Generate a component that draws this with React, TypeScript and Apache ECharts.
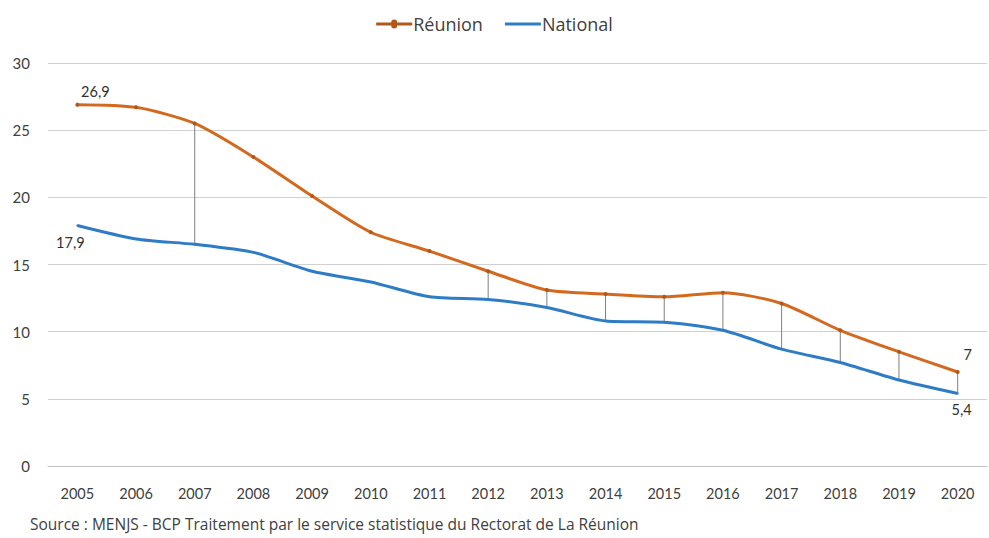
import React, { useEffect, useRef } from "react";
import * as echarts from "echarts";

const years = ["2005","2006","2007","2008","2009","2010","2011","2012","2013","2014","2015","2016","2017","2018","2019","2020"];
const reunion = [26.9, 26.7, 25.5, 23.0, 20.1, 17.4, 16.0, 14.5, 13.1, 12.8, 12.6, 12.9, 12.1, 10.1, 8.5, 7.0];
const national = [17.9, 16.9, 16.5, 15.9, 14.5, 13.7, 12.6, 12.4, 11.8, 10.8, 10.7, 10.1, 8.7, 7.7, 6.4, 5.4];
const dropYears = ["2007","2012","2013","2014","2015","2016","2017","2018","2019","2020"];
const labelsReunion: Record<number, string> = { 0: "26,9", 15: "7" };
const labelsNational: Record<number, string> = { 0: "17,9", 15: "5,4" };
const yTicks = { min: 0, max: 30, interval: 5 };
const sourceText = "Source : MENJS - BCP Traitement par le service statistique du Rectorat de La Réunion";

const ORANGE = "#D2691F";
const BLUE = "#2E7CC6";
const FONT = "Lato, 'Liberation Sans', sans-serif";
const FONT2 = "'Open Sans', 'Noto Sans', sans-serif";

export default function App() {
  const ref = useRef<HTMLDivElement>(null);
  useEffect(() => {
    if (!ref.current) return;
    const chart = echarts.init(ref.current, undefined, { renderer: "svg" });
    const dropData = dropYears.map((y) => {
      const i = years.indexOf(y);
      return [i, reunion[i], national[i]];
    });
    chart.setOption({
      animation: false,
      backgroundColor: "#ffffff",
      textStyle: { fontFamily: FONT },
      legend: {
        top: 10,
        left: "center",
        itemWidth: 36,
        itemHeight: 10,
        itemGap: 22,
        textStyle: { fontSize: 18, color: "#404040", fontFamily: FONT2, padding: [0, 0, 0, -4] },
        data: [
          { name: "Réunion", icon: "path://M0,3.6 L15,3.6 A2.4,2.4 0 1 1 21,3.6 L36,3.6 L36,6.4 L21,6.4 A2.4,2.4 0 1 1 15,6.4 L0,6.4 Z" },
          { name: "National", icon: "path://M0,3.6 L36,3.6 L36,6.4 L0,6.4 Z" },
        ],
      },
      grid: { left: 48, right: 2, top: 63, bottom: 72, containLabel: false },
      xAxis: {
        type: "category",
        data: years,
        boundaryGap: true,
        axisLine: { show: true, lineStyle: { color: "#bfbfbf", width: 1 } },
        axisTick: { show: false },
        axisLabel: { color: "#404040", fontSize: 14.5, margin: 20, fontFamily: FONT },
      },
      yAxis: {
        type: "value",
        min: yTicks.min,
        max: yTicks.max,
        interval: yTicks.interval,
        axisLine: { show: false },
        axisTick: { show: false },
        axisLabel: { color: "#404040", fontSize: 15, margin: 18, fontFamily: FONT },
        splitLine: { lineStyle: { color: "#d0d0d0", width: 1 } },
      },
      series: [
        {
          name: "Drop",
          type: "custom",
          silent: true,
          z: 1,
          data: dropData,
          renderItem: (params: any, api: any) => {
            const p1 = api.coord([api.value(0), api.value(1)]);
            const p2 = api.coord([api.value(0), api.value(2)]);
            return {
              type: "line",
              shape: { x1: p1[0], y1: p1[1], x2: p2[0], y2: p2[1] },
              style: { stroke: "#7f7f7f", lineWidth: 1 },
            };
          },
        },
        {
          name: "Réunion",
          type: "line",
          data: reunion,
          smooth: 0.25,
          z: 3,
          color: ORANGE,
          symbol: "circle",
          symbolSize: 4,
          showSymbol: true,
          itemStyle: { color: "#b0581a" },
          lineStyle: { color: ORANGE, width: 3 },
          label: {
            show: true,
            position: "top",
            distance: 4,
            color: "#303030",
            fontSize: 14.5,
            fontFamily: FONT,
            formatter: (p: any) => labelsReunion[p.dataIndex] ?? "",
          },
          labelLayout: (p: any) => {
            if (p.dataIndex === 0) return { dx: 18, dy: 0 };
            if (p.dataIndex === 15) return { dx: 10, dy: -4 };
            return {};
          },
        },
        {
          name: "National",
          type: "line",
          data: national,
          smooth: 0.25,
          z: 2,
          color: BLUE,
          symbol: "circle",
          symbolSize: 2,
          showSymbol: true,
          itemStyle: { color: BLUE },
          lineStyle: { color: BLUE, width: 3 },
          label: {
            show: true,
            position: "bottom",
            distance: 6,
            color: "#303030",
            fontSize: 14.5,
            fontFamily: FONT,
            formatter: (p: any) => labelsNational[p.dataIndex] ?? "",
          },
          labelLayout: (p: any) => {
            if (p.dataIndex === 0) return { dx: -7, dy: 2 };
            if (p.dataIndex === 15) return { dx: 4, dy: 2 };
            return {};
          },
        },
      ],
      graphic: [
        {
          type: "text",
          left: 30,
          top: 516,
          style: { text: sourceText, fill: "#404040", fontSize: 15.5, fontFamily: FONT2 },
        },
      ],
    });
    return () => chart.dispose();
  }, []);
  return <div ref={ref} style={{ width: 989, height: 538, position: "absolute", left: 0, top: 0 }} />;
}
